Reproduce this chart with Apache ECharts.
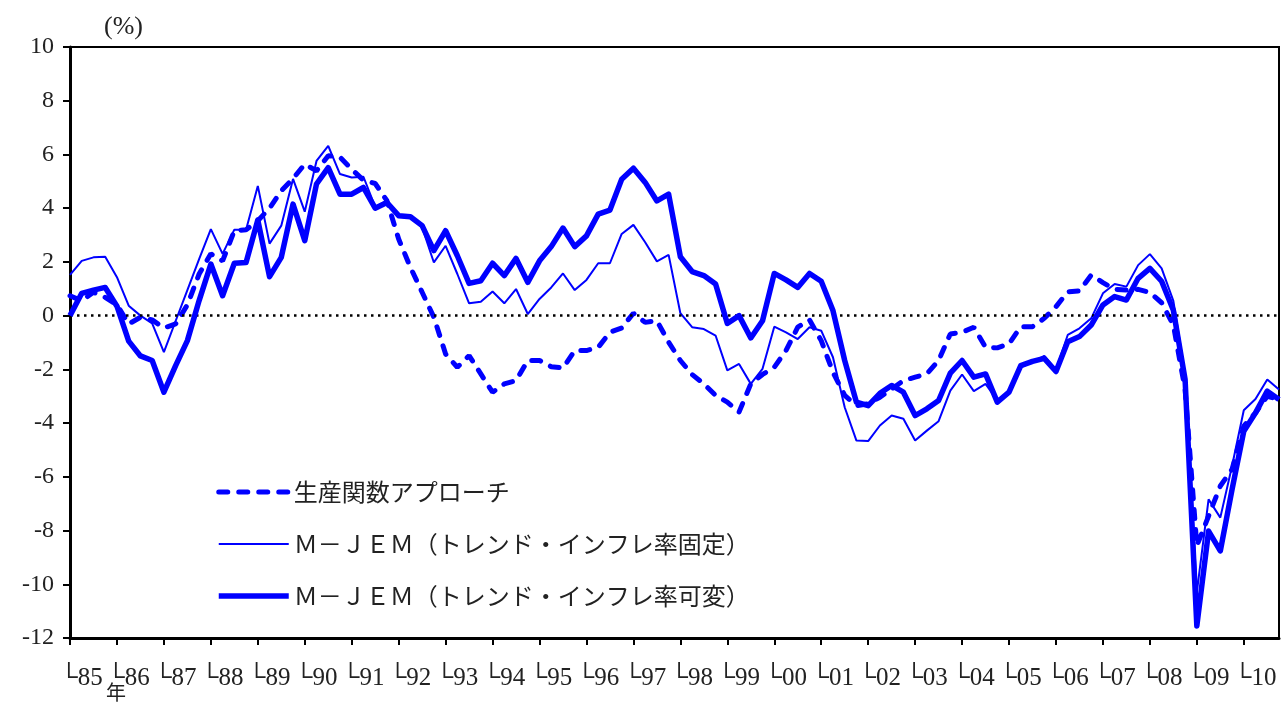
<!DOCTYPE html>
<html>
<head>
<meta charset="utf-8">
<script src="https://cdn.jsdelivr.net/npm/echarts@6/dist/echarts.min.js"></script>
<style>
  html, body { margin: 0; background: #fff; }
  #chart { width: 1282px; height: 704px; }
</style>
</head>
<body>
<div id="chart"></div>
<script>
// ========== データ（四半期、1985年1Q〜2010年4Q） ==========
const years = ['85','86','87','88','89','90','91','92','93','94','95','96','97',
               '98','99','00','01','02','03','04','05','06','07','08','09','10'];
const quarters = [];
years.forEach(y => { for (let q = 1; q <= 4; q++) quarters.push(y + 'Q' + q); });

const seriesNames = [
  '生産関数アプローチ',
  'Ｍ－ＪＥＭ（トレンド・インフレ率固定）',
  'Ｍ－ＪＥＭ（トレンド・インフレ率可変）'
];

// 生産関数アプローチ
const prodFunc = [
  0.74, 0.55, 0.87, 0.68, 0.40, -0.31, -0.06, -0.16, -0.46, -0.31, 0.40, 1.55,
  2.30, 2.04, 3.16, 3.20, 3.53, 4.00, 4.65, 5.10, 5.64, 5.39, 5.95, 5.90,
  5.45, 5.04, 4.92, 4.28, 2.85, 1.80, 0.87, -0.06, -1.43, -1.92, -1.49, -2.17,
  -2.85, -2.54, -2.42, -1.67, -1.67, -1.90, -1.95, -1.30, -1.30, -1.18, -0.62, -0.46,
  0.09, -0.25, -0.19, -0.99, -1.67, -2.19, -2.54, -2.97, -3.22, -3.59, -2.54, -2.19,
  -1.92, -1.30, -0.43, -0.16, -0.93, -2.11, -2.97, -3.35, -3.28, -3.04, -2.73, -2.42,
  -2.29, -2.17, -1.67, -0.68, -0.62, -0.43, -1.18, -1.20, -1.05, -0.41, -0.41, -0.10,
  0.33, 0.89, 0.92, 1.51, 1.23, 0.98, 0.95, 0.98, 0.86, 0.48, -0.35, -2.75,
  -8.57, -7.46, -6.34, -5.72, -4.11, -3.62, -3.00, -3.12
];

// M-JEM（トレンド・インフレ率固定）
const mjemFixed = [
  1.52, 2.04, 2.17, 2.19, 1.43, 0.37, 0.00, -0.29, -1.36, -0.20, 0.95, 2.10,
  3.22, 2.30, 3.20, 3.20, 4.83, 2.68, 3.35, 5.09, 3.87, 5.76, 6.32, 5.27,
  5.14, 5.17, 4.05, 4.28, 3.74, 3.72, 3.28, 1.98, 2.60, 1.55, 0.46, 0.52,
  0.90, 0.46, 0.99, 0.06, 0.62, 1.05, 1.57, 0.95, 1.33, 1.95, 1.95, 3.04,
  3.38, 2.73, 2.02, 2.26, 0.09, -0.43, -0.50, -0.74, -2.04, -1.80, -2.54, -1.98,
  -0.41, -0.62, -0.87, -0.43, -0.56, -1.55, -3.41, -4.65, -4.67, -4.09, -3.72, -3.84,
  -4.65, -4.28, -3.93, -2.79, -2.19, -2.81, -2.54, -3.16, -2.89, -1.92, -1.73, -1.50,
  -2.02, -0.72, -0.47, -0.10, 0.83, 1.18, 1.08, 1.88, 2.29, 1.76, 0.55, -2.20,
  -10.30, -6.84, -7.52, -5.60, -3.52, -3.10, -2.38, -2.75
];

// M-JEM（トレンド・インフレ率可変）
const mjemVariable = [
  0.00, 0.83, 0.95, 1.05, 0.35, -0.95, -1.50, -1.67, -2.85, -1.86, -0.93, 0.56,
  1.92, 0.74, 1.95, 1.98, 3.56, 1.45, 2.17, 4.15, 2.79, 4.90, 5.51, 4.52,
  4.52, 4.77, 4.00, 4.21, 3.72, 3.68, 3.35, 2.42, 3.16, 2.23, 1.20, 1.30,
  1.95, 1.49, 2.13, 1.24, 2.04, 2.57, 3.26, 2.57, 2.97, 3.78, 3.93, 5.08,
  5.49, 4.96, 4.27, 4.52, 2.19, 1.64, 1.49, 1.18, -0.29, 0.00, -0.83, -0.19,
  1.57, 1.33, 1.05, 1.57, 1.28, 0.19, -1.67, -3.22, -3.35, -2.89, -2.60, -2.85,
  -3.72, -3.47, -3.16, -2.14, -1.67, -2.29, -2.17, -3.22, -2.85, -1.86, -1.70, -1.59,
  -2.08, -0.97, -0.78, -0.35, 0.40, 0.71, 0.58, 1.39, 1.76, 1.28, 0.20, -2.38,
  -11.55, -8.02, -8.76, -6.47, -4.30, -3.62, -2.81, -3.12
];

// ========== 描画 ==========
const BLUE = '#0000ff';
const SERIF = '"Liberation Serif", "DejaVu Serif", serif';
const JP = '"Noto Sans CJK JP", sans-serif';

const chart = echarts.init(document.getElementById('chart'), null, { renderer: 'canvas' });

chart.setOption({
  backgroundColor: '#fff',
  animation: false,
  grid: {
    left: 70, right: 3, top: 47, bottom: 66,
    outerBoundsMode: 'none',
    show: true, borderColor: '#000', borderWidth: 2, backgroundColor: 'transparent'
  },
  legend: {
    orient: 'vertical',
    left: 216, top: 480, padding: 0,
    itemWidth: 70, itemHeight: 20, itemGap: 28,
    itemStyle: { opacity: 0 },
    lineStyle: { width: 'inherit' },
    textStyle: { fontFamily: JP, fontSize: 24, color: '#222' },
    data: seriesNames
  },
  xAxis: {
    type: 'category',
    data: quarters,
    boundaryGap: false,
    axisLine: { onZero: false, lineStyle: { color: '#000', width: 3 } },
    axisTick: { interval: i => i % 4 === 0, length: 7, lineStyle: { color: '#000', width: 2 } },
    axisLabel: {
      interval: i => i % 4 === 0,
      formatter: v => '└' + v.slice(0, 2),
      align: 'left',
      padding: [0, 0, 0, -10],
      margin: 28,
      fontFamily: SERIF, fontSize: 25, color: '#222'
    },
    splitLine: { show: false }
  },
  yAxis: {
    type: 'value',
    min: -12, max: 10, interval: 2,
    axisLine: { show: true, lineStyle: { color: '#000', width: 3 } },
    axisTick: { show: true, length: 7, lineStyle: { color: '#000', width: 2 } },
    axisLabel: { margin: 16, fontFamily: SERIF, fontSize: 24, color: '#222' },
    splitLine: { show: false }
  },
  graphic: [
    { type: 'text', left: 104, top: 14, style: { text: '(%)', font: '26px ' + SERIF, fill: '#222' } },
    { type: 'text', left: 106, top: 682, style: { text: '年', font: '20px ' + JP, fill: '#222' } }
  ],
  series: [
    {
      name: seriesNames[0], type: 'line', data: prodFunc, symbol: 'none', z: 3,
      lineStyle: { color: BLUE, width: 5, type: [9, 11], cap: 'round' },
      itemStyle: { color: BLUE },
      markLine: {
        silent: true, symbol: 'none', label: { show: false },
        lineStyle: { color: '#000', width: 2.5, type: [2.5, 4.5] },
        data: [{ yAxis: 0 }]
      }
    },
    {
      name: seriesNames[1], type: 'line', data: mjemFixed, symbol: 'none', z: 4,
      lineStyle: { color: BLUE, width: 2 },
      itemStyle: { color: BLUE }
    },
    {
      name: seriesNames[2], type: 'line', data: mjemVariable, symbol: 'none', z: 5,
      lineStyle: { color: BLUE, width: 5.5, join: 'round' },
      itemStyle: { color: BLUE }
    }
  ]
});
</script>
</body>
</html>
